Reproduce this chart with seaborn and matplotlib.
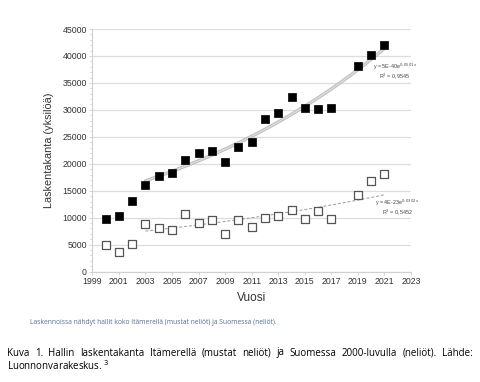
import numpy as np
import pandas as pd
import matplotlib
matplotlib.use("Agg")
import matplotlib.pyplot as plt
import seaborn as sns
from matplotlib.ticker import MultipleLocator

years = [2000, 2001, 2002, 2003, 2004, 2005, 2006, 2007, 2008, 2009, 2010,
         2011, 2012, 2013, 2014, 2015, 2016, 2017, 2019, 2020, 2021]
itameri = [9800, 10300, 13100, 16000, 17700, 18250, 20700, 22000, 22400, 20400, 23200,
           24000, 28300, 29500, 32300, 30300, 30100, 30400, 38100, 40100, 42000]
suomi = [4900, 3700, 5100, 8800, 8100, 7800, 10700, 9000, 9600, 7000, 9500,
         8200, 9900, 10300, 11500, 9700, 11200, 9700, 14300, 16800, 18100]
xticks = list(range(1999, 2024, 2))
yticks = list(range(0, 45001, 5000))

df = pd.DataFrame({"Vuosi": years, "Itameri": itameri, "Suomi": suomi})

sns.set_style("white")
plt.rcParams["font.family"] = ["Liberation Sans", "DejaVu Sans"]

fig = plt.figure(figsize=(4.8, 3.82), dpi=100)
ax = fig.add_axes([0.1923, 0.289, 0.664, 0.635])

# exponential trend lines fitted from 2003 onwards
fit = df[df["Vuosi"] >= 2003]
xs = np.linspace(2003, 2021, 100)
b1, a1 = np.polyfit(fit["Vuosi"], np.log(fit["Itameri"]), 1)
b2, a2 = np.polyfit(fit["Vuosi"], np.log(fit["Suomi"]), 1)
ax.plot(xs, np.exp(a1 + b1 * xs), color="#bdbdbd", lw=2.4, zorder=2)
ax.plot(xs, np.exp(a1 + b1 * xs), color="#dcdcdc", lw=1.0, zorder=2)
ax.plot(xs, np.exp(a2 + b2 * xs), color="#999999", lw=0.7, ls=(0, (3, 2)), zorder=2)

sns.scatterplot(data=df, x="Vuosi", y="Itameri", marker="s", s=38, color="black",
                edgecolor="black", linewidth=0.5, ax=ax, zorder=3)
sns.scatterplot(data=df, x="Vuosi", y="Suomi", marker="s", s=32, color="white",
                edgecolor="#555555", linewidth=0.9, ax=ax, zorder=3)

ax.set_xlim(1999, 2023)
ax.set_ylim(0, 45000)
ax.set_xticks(xticks)
ax.set_yticks(yticks)
ax.yaxis.set_minor_locator(MultipleLocator(1000))
ax.grid(axis="y", color="#dddddd", lw=0.9)
ax.set_axisbelow(True)
for s in ["top", "right"]:
    ax.spines[s].set_visible(False)
for s in ["left", "bottom"]:
    ax.spines[s].set_color("#d0d0d0")
    ax.spines[s].set_linewidth(0.8)
ax.tick_params(axis="both", which="both", labelsize=6.3, colors="#d0d0d0",
               labelcolor="#333333", length=2, width=0.6, pad=2)
ax.tick_params(axis="y", which="minor", length=1.5, left=True)
ax.tick_params(axis="both", which="major", left=True, bottom=True)

ax.set_xlabel("Vuosi", fontsize=8.5, color="#333333", labelpad=4)
ax.set_ylabel("Laskentakanta (yksilöä)", fontsize=7.8, color="#333333", labelpad=6)

eq = dict(fontsize=3.9, color="#444444", ha="right", va="center", clip_on=False)
ax.text(2023.5, 37900, "y = 5E-40e$^{0,0501x}$", **eq)
ax.text(2022.9, 36200, "R$^2$ = 0,9545", **eq)
ax.text(2023.6, 12800, "y = 4E-23e$^{0,0302x}$", **eq)
ax.text(2023.1, 11100, "R$^2$ = 0,5452", **eq)

cap_font = ["Open Sans", "DejaVu Sans"]
fig.text(30 / 480, 1 - 322 / 382,
         "Laskennoissa nähdyt hallit koko Itämerellä (mustat neliöt) ja Suomessa (neliöt).",
         fontsize=4.9, color="#56728f", family=cap_font, va="center")

# justified caption line
words = "Kuva 1. Hallin laskentakanta Itämerellä (mustat neliöt) ja Suomessa 2000-luvulla (neliöt). Lähde:".split()
x0, x1 = 7, 473
ytop = 1 - 353 / 382
fig.canvas.draw()
r = fig.canvas.get_renderer()
txts = [fig.text(0, ytop, w, fontsize=7.0, color="black", family=cap_font, va="center")
        for w in words]
widths = [t.get_window_extent(r).width for t in txts]
gap = (x1 - x0 - sum(widths)) / (len(words) - 1)
xpos = x0
for t, w in zip(txts, widths):
    t.set_x(xpos / 480)
    xpos += w + gap
fig.text(x0 / 480, 1 - 366 / 382, "Luonnonvarakeskus. $^{3}$", fontsize=7.0, color="black",
         family=cap_font, va="center")

fig.savefig("out.png", dpi=100)
